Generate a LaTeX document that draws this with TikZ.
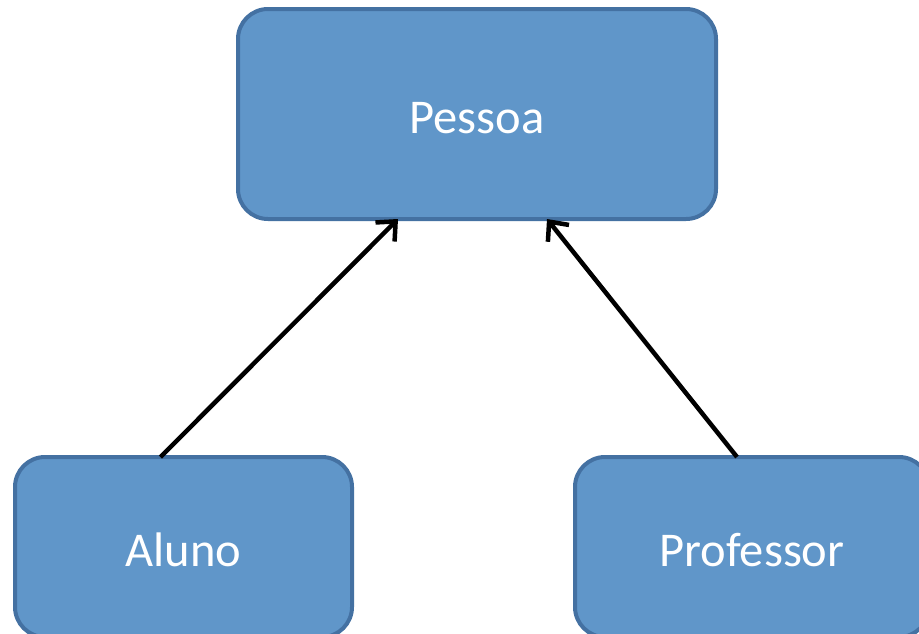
\documentclass[tikz,border=0pt]{standalone}
\usepackage{fontspec}
\setmainfont{Carlito}
\usetikzlibrary{positioning, arrows.meta}

\definecolor{boxfill}{RGB}{96,150,201}
\definecolor{boxline}{RGB}{68,113,162}

\begin{document}
\begin{tikzpicture}[
        x=1pt, y=-1pt,
        classbox/.style={rectangle, rounded corners=30pt, draw=boxline, line width=4pt,
            fill=boxfill, text=white, font=\fontsize{48.5}{50}\selectfont,
            text height=38pt, text depth=0pt, inner sep=0pt, outer sep=0pt},
        link/.style={draw, line width=4.5pt, -{Straight Barb[length=15pt, width=27pt]}}
    ]

    % page
    \clip (0,0) rectangle (919,633);
    \fill[white] (0,0) rectangle (919,633);

    % Nodes
    \node[classbox, minimum width=478pt, minimum height=210pt] (pessoa) at (477,114) {Pessoa};
    \node[classbox, minimum width=337pt, minimum height=180pt] (aluno) at (183.5,547) {Aluno};
    \node[classbox, minimum width=354pt, minimum height=180pt] (professor) at (752,547) {Professor};

    % Edges to the superclass
    \draw[link] ([xshift=-23pt]aluno.north) -- ([xshift=-79pt]pessoa.south);
    \draw[link] ([xshift=-15pt]professor.north) -- ([xshift=70pt]pessoa.south);

\end{tikzpicture}
\end{document}
